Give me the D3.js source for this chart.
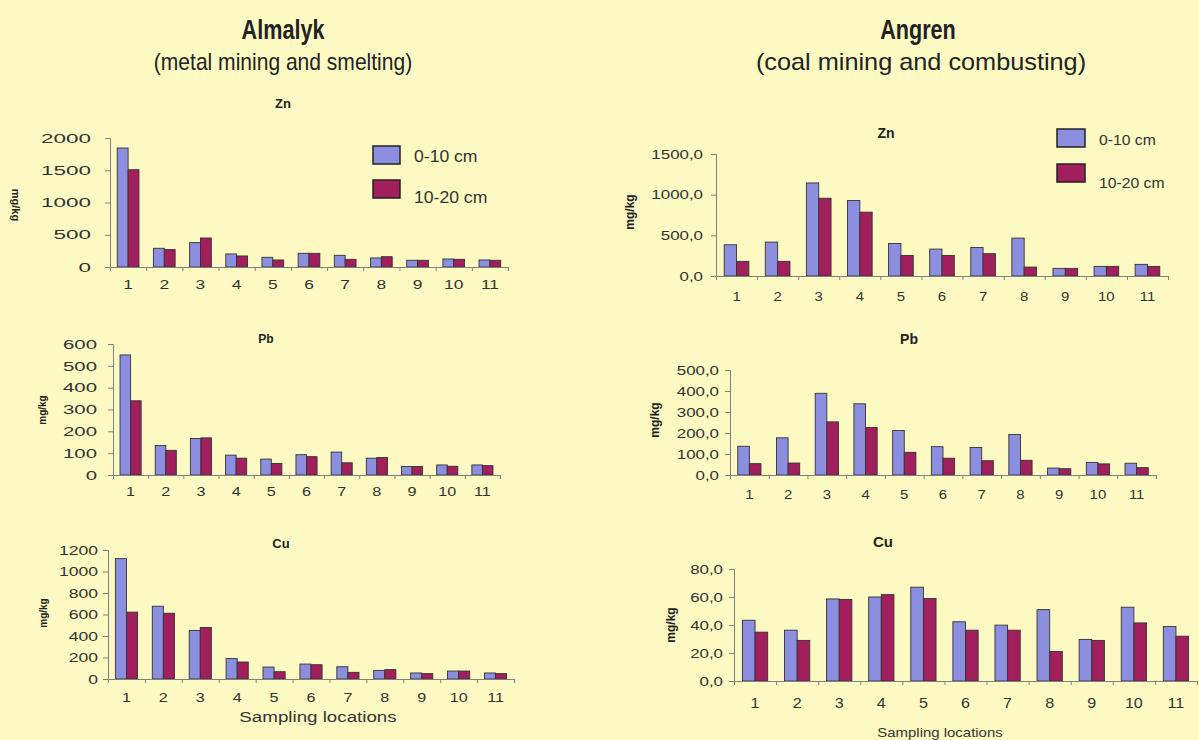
<!DOCTYPE html>
<html>
<head>
<meta charset="utf-8">
<script src="https://cdn.jsdelivr.net/npm/d3@7/dist/d3.min.js"></script>
<style>
  html, body { margin: 0; padding: 0; background: #fcfac2; }
  svg { display: block; }
</style>
</head>
<body>
<div id="chart"></div>
<script>
// Sampling locations and soil depths
var locations = ["1", "2", "3", "4", "5", "6", "7", "8", "9", "10", "11"];
var depths = ["0-10 cm", "10-20 cm"];

// Almalyk (metal mining and smelting), mg/kg
var almZnTop = [1845, 290, 378, 202, 150, 212, 181, 140, 104, 124, 109];
var almZnSub = [1508, 270, 450, 171, 109, 212, 119, 160, 104, 119, 104];
var almPbTop = [550, 135, 167, 91, 73, 93, 105, 77, 39, 46, 46];
var almPbSub = [340, 113, 170, 77, 53, 84, 56, 80, 39, 40, 43];
var almCuTop = [1120, 677, 452, 190, 111, 139, 114, 80, 56, 74, 56];
var almCuSub = [622, 612, 479, 158, 68, 133, 62, 87, 50, 74, 50];

// Angren (coal mining and combusting), mg/kg
var angZnTop = [384, 417, 1144, 928, 400, 331, 351, 466, 94, 118, 143];
var angZnSub = [180, 180, 956, 785, 253, 253, 274, 110, 94, 118, 118];
var angPbTop = [137, 177, 389, 339, 212, 135, 131, 193, 33, 60, 56];
var angPbSub = [54, 57, 253, 226, 108, 80, 68, 70, 30, 53, 35];
var angCuTop = [43.4, 36.3, 58.6, 60, 67, 42.3, 39.9, 51, 29.7, 52.7, 38.9];
var angCuSub = [34.9, 29, 58.2, 61.7, 58.9, 36.3, 36.3, 21.1, 29, 41.5, 32];

// y tick values
var almZnTicks = [0, 500, 1000, 1500, 2000];
var almPbTicks = [0, 100, 200, 300, 400, 500, 600];
var almCuTicks = [0, 200, 400, 600, 800, 1000, 1200];
var angZnTicks = [0, 500, 1000, 1500];
var angPbTicks = [0, 100, 200, 300, 400, 500];
var angCuTicks = [0, 20, 40, 60, 80];

var width = 1199, height = 740;
var colors = { "0-10 cm": "#8c8ee0", "10-20 cm": "#a11f5c" };
var sans = "'Liberation Sans', Arial, sans-serif";

var fmtInt = d3.format("d");
var fmtComma = function (d) { return d3.format(".1f")(d).replace(".", ","); };

var svg = d3.select("#chart").append("svg")
  .attr("width", width)
  .attr("height", height);

svg.append("rect").attr("width", width).attr("height", height).attr("fill", "#fcfac2");

// stretched / condensed text helper
function sText(x, y, str, size, sx, opts) {
  opts = opts || {};
  return svg.append("text")
    .attr("transform", "translate(" + x + "," + y + ") scale(" + sx + ",1)")
    .attr("text-anchor", opts.anchor || "middle")
    .attr("font-family", sans)
    .attr("font-weight", opts.bold ? "bold" : "normal")
    .attr("font-size", size)
    .attr("fill", opts.fill || "#222")
    .text(str);
}

// Main titles
sText(283, 39, "Almalyk", 27, 0.8, { bold: true });
sText(283, 70, "(metal mining and smelting)", 23, 0.915);
sText(918, 39, "Angren", 27, 0.8, { bold: true });
sText(921, 70, "(coal mining and combusting)", 23, 1.1);

// one small bar chart
function drawPanel(p) {
  var g = svg.append("g");

  var x = d3.scaleBand().domain(locations).range([p.x0, p.x1]).padding(0);
  var xs = d3.scaleBand().domain(depths)
    .range([x.bandwidth() * 0.2, x.bandwidth() * 0.8]);
  var y = d3.scaleLinear().domain([0, p.max]).range([p.yBot, p.yTop]);

  var rows = locations.map(function (loc, i) {
    return { loc: loc, vals: [
      { depth: depths[0], v: p.top[i] },
      { depth: depths[1], v: p.sub[i] }
    ] };
  });

  // bars
  g.selectAll("g.grp")
    .data(rows)
    .enter().append("g")
    .attr("class", "grp")
    .attr("transform", function (d) { return "translate(" + x(d.loc) + ",0)"; })
    .selectAll("rect")
    .data(function (d) { return d.vals; })
    .enter().append("rect")
    .attr("x", function (d) { return xs(d.depth); })
    .attr("y", function (d) { return y(d.v); })
    .attr("width", xs.bandwidth())
    .attr("height", function (d) { return y(0) - y(d.v); })
    .attr("fill", function (d) { return colors[d.depth]; })
    .attr("stroke", "#333")
    .attr("stroke-width", 0.9);

  // y axis
  var yAxis = g.append("g")
    .attr("transform", "translate(" + p.x0 + ",0)")
    .call(d3.axisLeft(y).tickValues(p.ticks).tickSize(5).tickPadding(p.yPad).tickFormat(p.fmt));
  styleAxis(yAxis, p.yFont, p.ySx);

  // x axis: line + boundary ticks
  var bounds = d3.range(locations.length + 1);
  var xb = d3.scaleLinear().domain([0, locations.length]).range([p.x0, p.x1]);
  var xTicks = g.append("g")
    .attr("transform", "translate(0," + p.yBot + ")")
    .call(d3.axisBottom(xb).tickValues(bounds).tickSize(4).tickFormat(""));
  xTicks.select(".domain").attr("stroke", "#808080");
  xTicks.selectAll(".tick line").attr("stroke", "#808080");

  var xAxis = g.append("g")
    .attr("transform", "translate(0," + p.yBot + ")")
    .call(d3.axisBottom(x).tickSize(0).tickPadding(p.xPad));
  xAxis.select(".domain").remove();
  styleAxis(xAxis, p.xFont, p.xSx);

  // chart label
  g.append("text").attr("x", p.labX).attr("y", p.labY)
    .attr("text-anchor", "middle").attr("font-family", sans)
    .attr("font-weight", "bold").attr("font-size", p.labSize).attr("fill", "#222")
    .text(p.label);

  // unit label
  g.append("text")
    .attr("transform", "translate(" + p.unitX + "," + p.unitY + ") rotate(" + p.unitRot + ")")
    .attr("text-anchor", "middle").attr("dy", "0.35em")
    .attr("font-family", sans).attr("font-weight", "bold")
    .attr("font-size", p.unitSize).attr("fill", "#222")
    .text("mg/kg");

  if (p.xTitle) {
    sText(p.xTitle[0], p.xTitle[1], "Sampling locations", p.xTitle[2], p.xTitle[3], { fill: "#333" });
  }
}

function styleAxis(ax, size, sx) {
  ax.select(".domain").attr("stroke", "#808080");
  ax.selectAll(".tick line").attr("stroke", "#808080");
  ax.selectAll(".tick text")
    .attr("font-family", sans)
    .attr("font-size", size)
    .attr("fill", "#333")
    .attr("x", function () { return +d3.select(this).attr("x") / sx || 0; })
    .attr("transform", "scale(" + sx + ",1)");
}

function legend(x, boxes, textDy, w, h, size, sx) {
  depths.forEach(function (dep, i) {
    svg.append("rect").attr("x", x).attr("y", boxes[i])
      .attr("width", w).attr("height", h)
      .attr("fill", colors[dep]).attr("stroke", "#222").attr("stroke-width", 1.5);
    sText(x + w + 14, boxes[i] + textDy[i], dep, size, sx, { anchor: "start", fill: "#333" });
  });
}

var panels = [
  { label: "Zn", top: almZnTop, sub: almZnSub, ticks: almZnTicks, max: 2000, fmt: fmtInt,
    x0: 110, x1: 508, yTop: 138, yBot: 267, yFont: 13, ySx: 1.73, yPad: 14, xFont: 12, xSx: 1.45, xPad: 13,
    labX: 283, labY: 108, labSize: 13, unitX: 16, unitY: 205, unitRot: 90, unitSize: 11 },
  { label: "Pb", top: almPbTop, sub: almPbSub, ticks: almPbTicks, max: 600, fmt: fmtInt,
    x0: 113, x1: 500, yTop: 344, yBot: 475, yFont: 13, ySx: 1.57, yPad: 11, xFont: 12, xSx: 1.35, xPad: 12,
    labX: 266, labY: 343, labSize: 12, unitX: 42, unitY: 410, unitRot: -90, unitSize: 10 },
  { label: "Cu", top: almCuTop, sub: almCuSub, ticks: almCuTicks, max: 1200, fmt: fmtInt,
    x0: 108, x1: 514, yTop: 550, yBot: 679, yFont: 13, ySx: 1.35, yPad: 5, xFont: 12, xSx: 1.35, xPad: 14,
    labX: 281, labY: 548, labSize: 13, unitX: 43, unitY: 613, unitRot: -90, unitSize: 10,
    xTitle: [318, 722, 15, 1.25] },
  { label: "Zn", top: angZnTop, sub: angZnSub, ticks: angZnTicks, max: 1500, fmt: fmtComma,
    x0: 716, x1: 1168, yTop: 154, yBot: 276, yFont: 13, ySx: 1.3, yPad: 8, xFont: 13, xSx: 1.15, xPad: 16,
    labX: 886, labY: 138, labSize: 14, unitX: 630, unitY: 212, unitRot: -90, unitSize: 12 },
  { label: "Pb", top: angPbTop, sub: angPbSub, ticks: angPbTicks, max: 500, fmt: fmtComma,
    x0: 730, x1: 1156, yTop: 370, yBot: 475, yFont: 13, ySx: 1.3, yPad: 6, xFont: 13, xSx: 1.15, xPad: 15,
    labX: 909, labY: 344, labSize: 14, unitX: 655, unitY: 420, unitRot: -90, unitSize: 12 },
  { label: "Cu", top: angCuTop, sub: angCuSub, ticks: angCuTicks, max: 80, fmt: fmtComma,
    x0: 734, x1: 1197, yTop: 569, yBot: 681, yFont: 13, ySx: 1.3, yPad: 6, xFont: 14, xSx: 1.15, xPad: 17,
    labX: 883, labY: 547, labSize: 15, unitX: 671, unitY: 625, unitRot: -90, unitSize: 12,
    xTitle: [940, 737, 13, 1.15] }
];

panels.forEach(drawPanel);

legend(373, [146, 180], [16, 23], 27, 18, 16, 1.1);
legend(1057, [129, 164], [16, 24], 28, 18, 15, 1.05);
</script>
</body>
</html>
